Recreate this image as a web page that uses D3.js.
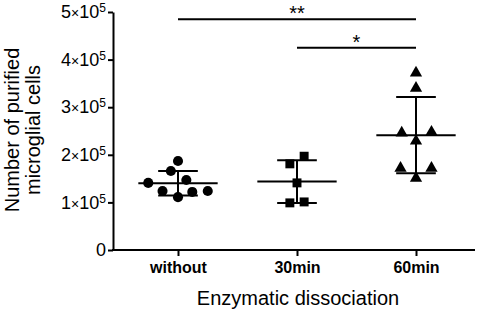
<!DOCTYPE html>
<html>
<head>
<meta charset="utf-8">
<script src="https://cdn.jsdelivr.net/npm/d3@7"></script>
<style>
  body { margin: 0; background: #fff; }
  text { font-family: "Liberation Sans", Arial, sans-serif; }
</style>
</head>
<body>
<div id="chart"></div>
<script>
// categorías y valores
const groups = ["without", "30min", "60min"];
const withoutValues = [187000, 166000, 141000, 147000, 124000, 111000, 122000, 124000];
const min30Values = [197000, 181000, 141000, 99000, 101000];
const min60Values = [372000, 340000, 246000, 248000, 229000, 172000, 172000, 151000];
const yTicks = [0, 100000, 200000, 300000, 400000, 500000];
const brackets = [
    { from: "without", to: "60min", value: 485000, label: "**" },
    { from: "30min", to: "60min", value: 425000, label: "*" }
];

const seriesValues = [withoutValues, min30Values, min60Values];
const shapes = [d3.symbolCircle, d3.symbolSquare, d3.symbolTriangle];
// desplazamiento horizontal de cada punto dentro de su grupo (en pasos)
const jitter = [
    [0, -0.06, -0.25, 0.07, -0.13, 0, 0.12, 0.25],
    [0.06, -0.06, 0, -0.06, 0.06],
    [0, 0, -0.12, 0.13, 0, -0.13, 0.13, 0]
];

const width = 480, height = 309;
const margin = { top: 12, right: 5, bottom: 59, left: 113 };

const svg = d3.select("#chart")
    .append("svg")
    .attr("width", width)
    .attr("height", height);

// Escalas
const x = d3.scalePoint()
    .domain(groups)
    .range([178, 416]);
const step = x.step();

const y = d3.scaleLinear()
    .domain([0, 500000])
    .range([height - margin.bottom, margin.top]);

// Eje Y
const yAxis = svg.append("g")
    .attr("transform", `translate(${margin.left},0)`)
    .call(d3.axisLeft(y).tickValues(yTicks).tickSize(5).tickSizeOuter(0).tickPadding(2));
yAxis.select(".domain").attr("stroke-width", 2);
yAxis.selectAll(".tick line").attr("stroke-width", 2);
yAxis.selectAll(".tick text")
    .attr("font-size", 18)
    .attr("fill", "#000")
    .each(function(d) {
        const t = d3.select(this);
        t.text(null);
        if (d === 0) { t.text("0"); return; }
        t.append("tspan").text(d / 100000);
        t.append("tspan").attr("font-size", 14).text("\u00d7");
        t.append("tspan").text("10");
        t.append("tspan").attr("font-size", 12).attr("dy", "-0.5em").text("5");
    });

// Eje X
svg.append("line")
    .attr("x1", margin.left - 1).attr("x2", width - margin.right)
    .attr("y1", y(0)).attr("y2", y(0))
    .attr("stroke", "#000").attr("stroke-width", 2);
const xAxis = svg.append("g")
    .attr("transform", `translate(0,${y(0)})`)
    .call(d3.axisBottom(x).tickSize(6).tickSizeOuter(0).tickPadding(6));
xAxis.select(".domain").remove();
xAxis.selectAll(".tick line").attr("stroke-width", 2);
xAxis.selectAll(".tick text")
    .attr("font-size", 16)
    .attr("font-weight", "bold")
    .attr("fill", "#000");

// Títulos de ejes
svg.append("text")
    .attr("x", (margin.left + width - margin.right) / 2 + 4)
    .attr("y", 305)
    .attr("text-anchor", "middle")
    .attr("font-size", 20)
    .text("Enzymatic dissociation");

const yTitle = svg.append("text")
    .attr("transform", "translate(0,130) rotate(-90)")
    .attr("text-anchor", "middle")
    .attr("font-size", 20);
yTitle.append("tspan").attr("x", 0).attr("y", 19).text("Number of purified");
yTitle.append("tspan").attr("x", 0).attr("y", 40).text("microglial cells");

// Media y desviación estándar
seriesValues.forEach((vals, i) => {
    const cx = x(groups[i]);
    const m = d3.mean(vals);
    const sd = d3.deviation(vals);
    const g = svg.append("g").attr("stroke", "#000").attr("stroke-width", 2);
    g.append("line")
        .attr("x1", cx).attr("x2", cx)
        .attr("y1", y(m - sd)).attr("y2", y(m + sd));
    g.append("line")
        .attr("x1", cx - step / 3).attr("x2", cx + step / 3)
        .attr("y1", y(m)).attr("y2", y(m));
    [m - sd, m + sd].forEach(v => {
        g.append("line")
            .attr("x1", cx - step / 6).attr("x2", cx + step / 6)
            .attr("y1", y(v)).attr("y2", y(v));
    });
});

// Puntos
seriesValues.forEach((vals, i) => {
    const sym = d3.symbol().type(shapes[i]).size(i === 2 ? 65 : 80);
    svg.selectAll(null)
        .data(vals)
        .enter()
        .append("path")
        .attr("d", sym)
        .attr("transform", (d, j) => `translate(${x(groups[i]) + jitter[i][j] * step},${y(d)})`)
        .attr("fill", "#000");
});

// Corchetes de significancia
brackets.forEach(b => {
    const by = y(b.value);
    svg.append("line")
        .attr("x1", x(b.from)).attr("x2", x(b.to))
        .attr("y1", by).attr("y2", by)
        .attr("stroke", "#000").attr("stroke-width", 2);
    svg.append("text")
        .attr("x", (x(b.from) + x(b.to)) / 2)
        .attr("y", by + 1)
        .attr("text-anchor", "middle")
        .attr("font-size", 20)
        .text(b.label);
});
</script>
</body>
</html>
